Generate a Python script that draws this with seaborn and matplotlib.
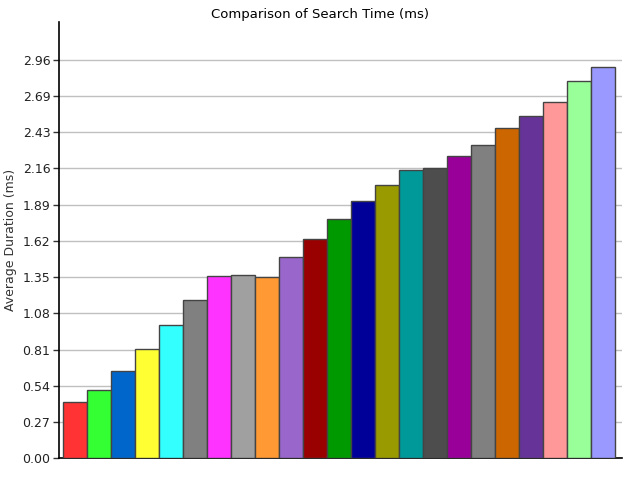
import numpy as np
import pandas as pd
import matplotlib
matplotlib.use('Agg')
import matplotlib.pyplot as plt
import seaborn as sns

# Bar values (ms)
labels = ['S%d' % i for i in range(1, 24)]
durations = [0.416, 0.505, 0.646, 0.809, 0.987, 1.173, 1.351, 1.361, 1.344,
             1.492, 1.628, 1.774, 1.908, 2.027, 2.138, 2.153, 2.242, 2.324,
             2.457, 2.539, 2.643, 2.801, 2.910]
colors = ['#FF3333', '#33FF33', '#0066CC', '#FFFF33', '#33FFFF', '#808080',
          '#FF33FF', '#A0A0A0', '#FF9933', '#9966CC', '#990000', '#009900',
          '#000099', '#999900', '#009999', '#4D4D4D', '#990099', '#808080',
          '#CC6600', '#663399', '#FF9999', '#99FF99', '#9999FF']
yticks = [0.00, 0.27, 0.54, 0.81, 1.08, 1.35, 1.62, 1.89, 2.16, 2.43, 2.69, 2.96]

df = pd.DataFrame({'label': labels, 'duration': durations})

sns.set_style('white')
plt.rcParams['font.family'] = ['DejaVu Sans']
plt.rcParams['text.color'] = 'black'
plt.rcParams['axes.labelcolor'] = '#333333'
plt.rcParams['ytick.color'] = '#222222'

fig = plt.figure(figsize=(6.4, 4.8), dpi=100)
ax = fig.add_axes([0.0917, 0.0452, 0.8797, 0.9088])

sns.barplot(data=df, x='label', y='duration', hue='label', palette=colors,
            legend=False, width=1.0, edgecolor='#444444', linewidth=1.0,
            saturation=1, ax=ax, zorder=3)

step = 2.96 / 11
ax.set_yticks([i * step for i in range(12)])
ax.set_yticklabels(['%.2f' % v for v in yticks], fontsize=9)
ax.set_ylim(0, 3.24)
ax.set_xlim(-0.69, 22.77)
ax.set_xticks([])
ax.set_xlabel('')
ax.set_ylabel('Average Duration (ms)', fontsize=9)
ax.yaxis.grid(True, color='#C0C0C0', linewidth=1, zorder=0)
ax.set_axisbelow(True)
ax.tick_params(axis='y', direction='out', length=4, width=1, color='#333333', pad=2, left=True)

for s in ['top', 'right']:
    ax.spines[s].set_visible(False)
for s in ['left', 'bottom']:
    ax.spines[s].set_color('black')
    ax.spines[s].set_linewidth(1.2)

fig.text(0.5, 0.97, 'Comparison of Search Time (ms)', ha='center', va='center',
         fontsize=9.5, color='black')

fig.savefig('out.png', dpi=100)
